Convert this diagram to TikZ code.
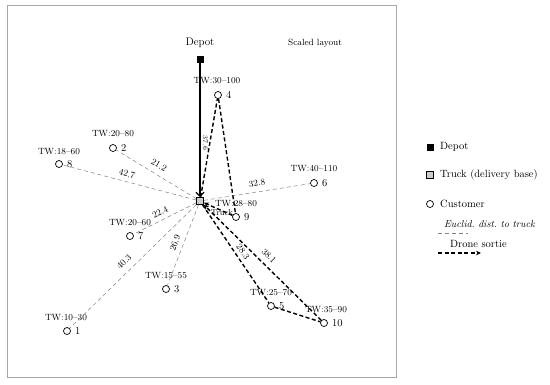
\documentclass[tikz,border=0pt]{standalone}
\usetikzlibrary{arrows.meta}
\begin{document}
\begin{tikzpicture}[x=1pt,y=-1pt,
 cust/.style={draw, circle, fill=white, inner sep=0pt, minimum size=7pt, line width=0.7pt},
 depotbox/.style={fill=black, inner sep=0pt, minimum size=7pt},
 truckbox/.style={draw, fill=gray!40, inner sep=0pt, minimum size=7pt, line width=0.7pt},
 twlab/.style={font=\fontsize{9}{10}\selectfont, inner sep=1pt},
 numlab/.style={font=\fontsize{10.5}{11}\selectfont, anchor=west, inner sep=1pt},
 distlab/.style={font=\fontsize{9}{10}\selectfont, inner sep=1pt},
 legtext/.style={font=\fontsize{10.5}{12}\selectfont, anchor=west, inner sep=1pt},
 euclid/.style={gray, line width=0.5pt, dash pattern=on 4pt off 3pt},
 droneline/.style={black, line width=1.4pt, dash pattern=on 4pt off 2.5pt},
 drone/.style={droneline, -{Stealth[length=5pt,width=4.5pt]}},
 truckpath/.style={black, line width=1.3pt, -{Straight Barb[length=4pt,width=8pt]}},
]
\useasboundingbox (0,0) rectangle (550,384);
\draw[gray!70, line width=0.8pt] (7,5) rectangle (396,377);

% titles
\node[font=\fontsize{11}{12}\selectfont] (deplab) at (200,43) {Depot};
\node[font=\fontsize{9}{10}\selectfont] (title) at (315,43) {Scaled layout};

% depot and truck
\node[depotbox] (depot) at (200,59) {};
\node[truckbox] (truck) at (200,201) {};

% customers
\node[cust] (c1) at (67,331) {};
\node[cust] (c2) at (113,148) {};
\node[cust] (c3) at (166,289) {};
\node[cust] (c4) at (218,95) {};
\node[cust] (c5) at (271,306) {};
\node[cust] (c6) at (314,183) {};
\node[cust] (c7) at (130,236) {};
\node[cust] (c8) at (59,164) {};
\node[cust] (c9) at (236,217) {};
\node[cust] (c10) at (324,323) {};

% numbers
\node[numlab] (n1) at (74,331) {1};
\node[numlab] (n2) at (120,148) {2};
\node[numlab] (n3) at (173,289) {3};
\node[numlab] (n4) at (225,95) {4};
\node[numlab] (n5) at (278,306) {5};
\node[numlab] (n6) at (321,183) {6};
\node[numlab] (n7) at (137,236) {7};
\node[numlab] (n8) at (66,164) {8};
\node[numlab] (n9) at (243,217) {9};
\node[numlab] (n10) at (331,323) {10};

% time windows
\node[twlab] (tw1) at (66,318) {TW:10--30};
\node[twlab] (tw2) at (113,134) {TW:20--80};
\node[twlab] (tw3) at (166,276) {TW:15--55};
\node[twlab] (tw4) at (217,81) {TW:30--100};
\node[twlab] (tw5) at (271,293) {TW:25--70};
\node[twlab] (tw6) at (314,169) {TW:40--110};
\node[twlab] (tw7) at (130,223) {TW:20--60};
\node[twlab] (tw8) at (59,152) {TW:18--60};
\node[twlab] (tw9) at (236,204) {TW:28--80};
\node[twlab] (tw10) at (326,310) {TW:35--90};

% truck label
\node[font=\fontsize{8.5}{9}\selectfont, inner sep=1pt] (trucklab) at (222,213) {Truck};

% Euclidean distances
\draw[euclid] (truck) -- (c2);
\draw[euclid] (truck) -- (c8);
\draw[euclid] (truck) -- (c7);
\draw[euclid] (truck) -- (c3);
\draw[euclid] (truck) -- (c1);
\draw[euclid] (truck) -- (c6);
\node[distlab, rotate=-31] (d2) at (159,165) {21.2};
\node[distlab, rotate=-15] (d8) at (127,174) {42.7};
\node[distlab, rotate=27] (d7) at (160,212) {22.4};
\node[distlab, rotate=69] (d3) at (175,243) {26.9};
\node[distlab, rotate=44] (d1) at (124,262) {40.3};
\node[distlab, rotate=9] (d6) at (257,183) {32.8};

% truck path
\draw[truckpath] (depot) -- (truck);
\node[distlab, rotate=-90, font=\fontsize{7}{8}\selectfont] (dd) at (205.5,143) {37.6};

% drone sorties
\draw[droneline] (truck) -- (c4);
\draw[droneline] (c4) -- (c9);
\draw[drone] (c9) -- (truck);
\draw[droneline] (truck) -- (c5);
\draw[droneline] (c5) -- (c10);
\draw[drone] (c10) -- (truck);
\node[distlab, rotate=-56] (d5) at (243,252) {28.3};
\node[distlab, rotate=-45] (d10) at (269,256) {38.1};

% legend
\node[depotbox] (ldepot) at (430,147) {};
\node[legtext] (ldepott) at (439,147) {Depot};
\node[truckbox] (ltruck) at (430,175) {};
\node[legtext] (ltruckt) at (439,175) {Truck (delivery base)};
\node[cust] (lcust) at (430,204) {};
\node[legtext] (lcustt) at (439,204) {Customer};
\node[legtext, font=\fontsize{10}{12}\selectfont\itshape] (leuct) at (443,224) {Euclid.\ dist.\ to truck};
\coordinate (le1) at (438,233);
\coordinate (le2) at (468,233);
\draw[euclid] (le1) -- (le2);
\node[legtext] (ldront) at (449,244) {Drone sortie};
\coordinate (ld1) at (438,253);
\coordinate (ld2) at (481,253);
\draw[drone] (ld1) -- (ld2);
\end{tikzpicture}
\end{document}
